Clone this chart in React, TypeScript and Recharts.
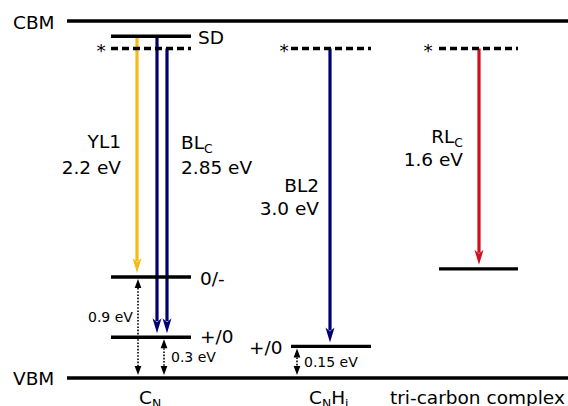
import { ComposedChart, XAxis, YAxis, ReferenceLine, ReferenceDot } from 'recharts';

const GOLD = '#f5bb14';
const NAVY = '#000070';
const RED = '#d20f1e';
const FONT = '"DejaVu Sans", Verdana, sans-serif';

// energies in eV above the VBM, as drawn (the sketch is not to scale)
const bandEdges = [
  { name: 'CBM', e: 3.5 },
  { name: 'VBM', e: 0 },
];
const edgeStart = 67;
const edgeEnd = 568;

const defects = ['C_{N}', 'C_{N}H_{i}', 'tri-carbon complex'];
const defectLeft = [111, 291, 439];
const defectRight = [191, 371, 518];

const levels = [
  { defect: 0, e: 3.35, dashed: false },
  { defect: 0, e: 3.23, dashed: true },
  { defect: 0, e: 0.99, dashed: false },
  { defect: 0, e: 0.40, dashed: false },
  { defect: 1, e: 3.23, dashed: true },
  { defect: 1, e: 0.31, dashed: false },
  { defect: 2, e: 3.23, dashed: true },
  { defect: 2, e: 1.07, dashed: false },
];

const transitions = [
  { x: 137, from: 3.35, to: 0.99, color: GOLD },
  { x: 157, from: 3.35, to: 0.40, color: NAVY },
  { x: 167, from: 3.23, to: 0.40, color: NAVY },
  { x: 330, from: 3.23, to: 0.31, color: NAVY },
  { x: 479, from: 3.23, to: 1.07, color: RED },
];

const gaps = [
  { x: 138, from: 0.99, to: 0 },
  { x: 164, from: 0.40, to: 0 },
  { x: 297, from: 0.31, to: 0 },
];

// text labels: x, baseline energy, anchor, size
const texts = [
  { t: 'CBM', x: 13, e: 3.42, a: 'start', s: 18.5 },
  { t: 'VBM', x: 13, e: -0.07, a: 'start', s: 18.5 },
  { t: 'SD', x: 198, e: 3.27, a: 'start', s: 18.5 },
  { t: '*', x: 101, e: 3.15, a: 'middle', s: 18.5 },
  { t: '*', x: 284, e: 3.15, a: 'middle', s: 18.5 },
  { t: '*', x: 428, e: 3.15, a: 'middle', s: 18.5 },
  { t: '0/-', x: 200, e: 0.91, a: 'start', s: 18.5 },
  { t: '+/0', x: 200, e: 0.34, a: 'start', s: 18.5 },
  { t: '+/0', x: 249, e: 0.235, a: 'start', s: 18.5 },
  { t: 'YL1', x: 121, e: 2.255, a: 'end', s: 18.5 },
  { t: '2.2 eV', x: 121, e: 2.0, a: 'end', s: 18.5 },
  { t: 'BL_{C}', x: 181, e: 2.245, a: 'start', s: 18.5 },
  { t: '2.85 eV', x: 181, e: 2.0, a: 'start', s: 18.5 },
  { t: 'BL2', x: 319, e: 1.824, a: 'end', s: 18.5 },
  { t: '3.0 eV', x: 319, e: 1.598, a: 'end', s: 18.5 },
  { t: 'RL_{C}', x: 463, e: 2.304, a: 'end', s: 18.5 },
  { t: '1.6 eV', x: 463, e: 2.078, a: 'end', s: 18.5 },
  { t: '0.9 eV', x: 88, e: 0.549, a: 'start', s: 14 },
  { t: '0.3 eV', x: 171, e: 0.157, a: 'start', s: 14 },
  { t: '0.15 eV', x: 304, e: 0.108, a: 'start', s: 14 },
];
const defectLabelX = [139, 309, 390];
const defectLabelE = -0.255;

const renderRich = (t: string, size: number) =>
  t.split(/(_\{[^}]*\})/).filter(Boolean).map((p, i) =>
    p.startsWith('_{') ? (
      <tspan key={i} fontSize={size * 0.67} dy={4}>{p.slice(2, -1)}</tspan>
    ) : (
      <tspan key={i} fontSize={size} dy={i === 0 ? 0 : -4}>{p}</tspan>
    )
  );

const textShape = (t: string, a: string, s: number) => (props: any) => (
  <text x={props.cx} y={props.cy} textAnchor={a} fontFamily={FONT} fontSize={s} fill="#000">
    {renderRich(t, s)}
  </text>
);

const arrowShape = (color: string) => (props: any) => {
  const { x1, y1, x2 } = props;
  const tip = props.y2 - 4;
  const head = 15;
  return (
    <g>
      <line x1={x1} y1={y1} x2={x2} y2={tip - head + 3} stroke={color} strokeWidth={3.2} />
      <path d={`M${x2},${tip} L${x2 - 4.5},${tip - head} L${x2},${tip - head + 4} L${x2 + 4.5},${tip - head} Z`} fill={color} />
    </g>
  );
};

const gapShape = (props: any) => {
  const { x1, y1, y2 } = props;
  const top = y1 + 2;
  const bot = y2 - 3;
  const h = 9;
  return (
    <g>
      <line x1={x1} y1={top + h} x2={x1} y2={bot - h} stroke="#000" strokeWidth={1.6} strokeDasharray="1.6 1.6" />
      <path d={`M${x1},${top} L${x1 - 3.4},${top + h} L${x1 + 3.4},${top + h} Z`} fill="#000" />
      <path d={`M${x1},${bot} L${x1 - 3.4},${bot - h} L${x1 + 3.4},${bot - h} Z`} fill="#000" />
    </g>
  );
};

export default function App() {
  return (
    <div style={{ position: 'absolute', left: 0, top: 0, background: '#fff' }}>
      <ComposedChart width={568} height={406} margin={{ top: 21, right: 0, bottom: 28, left: 0 }}>
        <XAxis type="number" dataKey="x" domain={[0, 568]} hide allowDataOverflow />
        <YAxis type="number" domain={[0, 3.5]} hide allowDataOverflow />
        {bandEdges.map((b) => (
          <ReferenceLine
            key={b.name}
            segment={[{ x: edgeStart, y: b.e }, { x: edgeEnd, y: b.e }]}
            stroke="#000"
            strokeWidth={3.6}
            ifOverflow="visible"
          />
        ))}
        {transitions.map((t, i) => (
          <ReferenceLine
            key={'t' + i}
            segment={[{ x: t.x, y: t.from }, { x: t.x, y: t.to }]}
            ifOverflow="visible"
            shape={arrowShape(t.color)}
          />
        ))}
        {levels.map((l, i) => (
          <ReferenceLine
            key={'l' + i}
            segment={[{ x: defectLeft[l.defect], y: l.e }, { x: defectRight[l.defect], y: l.e }]}
            stroke="#000"
            strokeWidth={3.4}
            strokeDasharray={l.dashed ? '7 4' : undefined}
            ifOverflow="visible"
          />
        ))}
        {gaps.map((g, i) => (
          <ReferenceLine
            key={'g' + i}
            segment={[{ x: g.x, y: g.from }, { x: g.x, y: g.to }]}
            ifOverflow="visible"
            shape={gapShape}
          />
        ))}
        {texts.map((t, i) => (
          <ReferenceDot key={'x' + i} x={t.x} y={t.e} r={0} ifOverflow="visible" shape={textShape(t.t, t.a, t.s)} />
        ))}
        {defects.map((d, i) => (
          <ReferenceDot key={'d' + i} x={defectLabelX[i]} y={defectLabelE} r={0} ifOverflow="visible" shape={textShape(d, 'start', 18.5)} />
        ))}
      </ComposedChart>
    </div>
  );
}
